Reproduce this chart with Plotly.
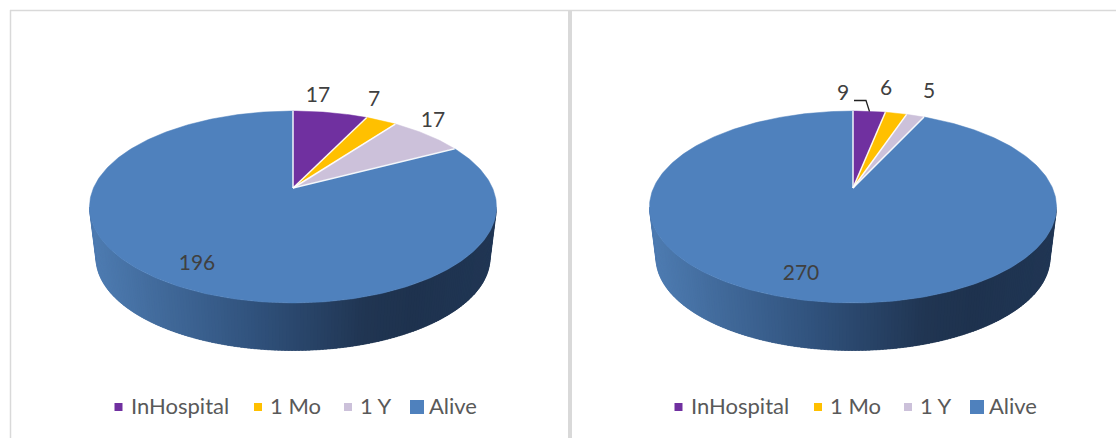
import numpy as np
import plotly.graph_objects as go

categories = ["InHospital", "1 Mo", "1 Y", "Alive"]
left_values = [17, 7, 17, 196]
right_values = [9, 6, 5, 270]
slice_colors = ["#7030A0", "#FFC000", "#CCC1DA", "#4F81BD"]

W, H = 1116, 438
LABEL_FONT = "Lato, Carlito, Calibri, sans-serif"

# perspective model of the pie disc, in page pixels
A, B, K = 92.2, 199.5, 0.198
APEX_Y = 188.0
TOP_CY, TOP_RX, TOP_RY = 207.0, 203.5, 96.0
BOT_CY, BOT_RX, BOT_RY = 258.0, 197.0, 92.5
ARC_STEP_DEG = 1.0
SIDE_STEP_DEG = 1.0

GRAD_X = [0.0, 0.16, 0.42, 0.68, 0.80, 1.0]
GRAD_C = [(78, 124, 178), (66, 107, 156), (47, 80, 122), (32, 53, 82), (30, 50, 78), (32, 54, 84)]


def project(cx, theta_deg):
    t = np.radians(theta_deg)
    u, v = np.sin(t), np.cos(t)
    w = 1 + K * v
    return cx + B * u / w, APEX_Y - A * v / w


def grad_color(f):
    c = [int(round(np.interp(f, GRAD_X, [g[i] for g in GRAD_C]))) for i in range(3)]
    return f"rgb({c[0]},{c[1]},{c[2]})"


fig = go.Figure()


def add_side(cx):
    # drawn from the right end round to the left, each band overlapping the next one
    step = np.radians(SIDE_STEP_DEG)
    ts = np.arange(0, np.pi, step)
    for a in ts:
        b = min(a + 2.5 * step, np.pi)
        arc = np.linspace(a, b, 4)
        xs = list(cx + TOP_RX * np.cos(arc)) + list(cx + BOT_RX * np.cos(arc[::-1]))
        ys = list(TOP_CY + TOP_RY * np.sin(arc)) + list(BOT_CY + BOT_RY * np.sin(arc[::-1]))
        f = (np.cos(a + step / 2) + 1) / 2   # 0 at the left end, 1 at the right end
        col = grad_color(f)
        fig.add_trace(go.Scatter(x=xs, y=ys, mode="lines", fill="toself", fillcolor=col,
                                 line=dict(color=col, width=0.3), hoverinfo="skip", showlegend=False))


def add_pie(cx, values):
    total = sum(values)
    start = 0.0
    bounds = [0.0]
    order = list(range(len(values)))
    for i in order:
        sweep = 360.0 * values[i] / total
        th = np.linspace(start, start + sweep, max(2, int(sweep / ARC_STEP_DEG) + 1))
        px, py = project(cx, th)
        fig.add_trace(go.Scatter(x=[cx] + list(px) + [cx], y=[APEX_Y] + list(py) + [APEX_Y],
                                 mode="lines", fill="toself", fillcolor=slice_colors[i],
                                 line=dict(color=slice_colors[i], width=0.5),
                                 name=categories[i], hoverinfo="skip", showlegend=False))
        start += sweep
        bounds.append(start)
    for b in bounds[:-1]:
        px, py = project(cx, b)
        fig.add_trace(go.Scatter(x=[cx, px], y=[APEX_Y, py], mode="lines",
                                 line=dict(color="rgba(255,255,255,0.92)", width=1.5),
                                 hoverinfo="skip", showlegend=False))


def add_labels(values, xs, ys):
    fig.add_trace(go.Scatter(x=xs, y=ys, mode="text", text=[str(v) for v in values],
                             textposition="middle center",
                             textfont=dict(family=LABEL_FONT, size=21, color="#404040"),
                             hoverinfo="skip", showlegend=False))


def add_legend(offset):
    marker_x = [118.5, 258, 348, 417]
    marker_size = [8, 8, 8, 14]
    text_x = [131, 270, 360, 429]
    for i, cat in enumerate(categories):
        fig.add_trace(go.Scatter(x=[marker_x[i] + offset], y=[407], mode="markers",
                                 marker=dict(symbol="square", size=marker_size[i], color=slice_colors[i]),
                                 hoverinfo="skip", showlegend=False))
        fig.add_trace(go.Scatter(x=[text_x[i] + offset], y=[408], mode="text", text=[cat],
                                 textposition="middle right",
                                 textfont=dict(family=LABEL_FONT, size=22, color="#595959"),
                                 hoverinfo="skip", showlegend=False))


LEFT_CX, RIGHT_CX = 293, 853
add_side(LEFT_CX)
add_side(RIGHT_CX)
add_pie(LEFT_CX, left_values)
add_pie(RIGHT_CX, right_values)
add_labels(left_values, [318, 374, 433, 197], [97, 101, 122, 265])
add_labels(right_values, [843, 886, 929, 801], [95, 90, 93, 275])
# leader line of the "9" label
fig.add_trace(go.Scatter(x=[854, 866, 869.5], y=[100.5, 100.5, 111.5], mode="lines",
                         line=dict(color="#222222", width=1.3), hoverinfo="skip", showlegend=False))
add_legend(0)
add_legend(560)

frame = "#D9D9D9"
shapes = [
    dict(type="line", x0=10.5, x1=10.5, y0=10, y1=H, line=dict(color=frame, width=1.5)),
    dict(type="line", x0=10, x1=W, y0=10.5, y1=10.5, line=dict(color=frame, width=1.5)),
    dict(type="line", x0=570, x1=570, y0=10, y1=H, line=dict(color=frame, width=4)),
]
for s in shapes:
    s.update(xref="x", yref="y", layer="below")

fig.update_layout(
    width=W, height=H, margin=dict(l=0, r=0, t=0, b=0), showlegend=False,
    paper_bgcolor="white", plot_bgcolor="white", shapes=shapes,
    xaxis=dict(range=[0, W], visible=False, fixedrange=True),
    yaxis=dict(range=[H, 0], visible=False, fixedrange=True),
)
fig.write_html("out.html", config={"displayModeBar": False},
               post_script="document.body.style.margin='0';")
